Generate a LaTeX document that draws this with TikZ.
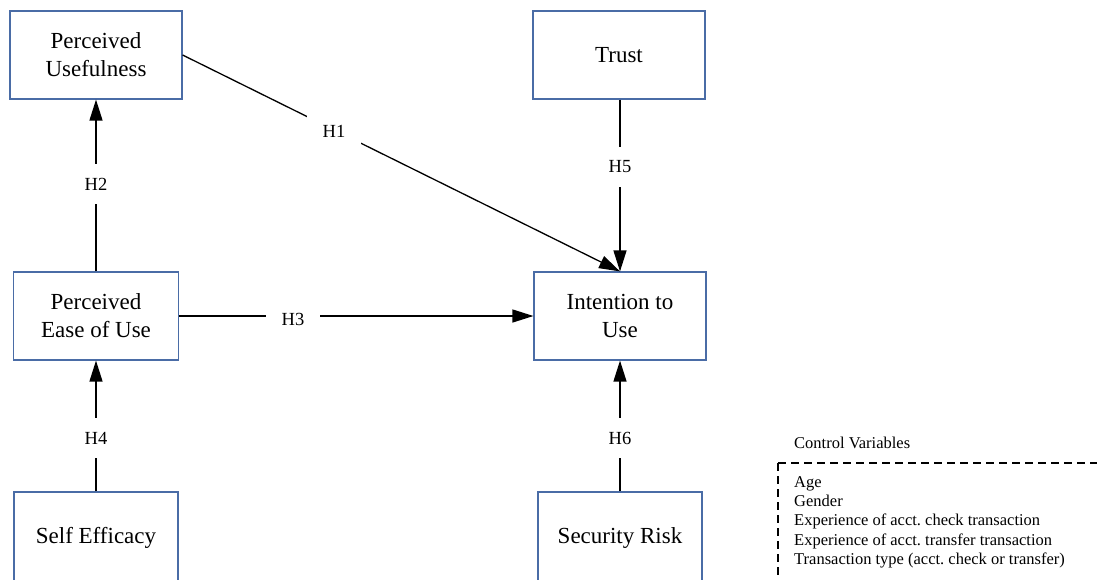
\documentclass[tikz,border=0pt]{standalone}
\usepackage{fontspec}
\setmainfont{Liberation Serif}
\usetikzlibrary{arrows.meta}
\definecolor{boxblue}{RGB}{74,108,166}
\tikzset{
  construct/.style={draw=boxblue, line width=1.2pt, fill=white, align=center,
    inner sep=0pt, font=\fontsize{23}{28}\selectfont},
  path/.style={draw=black, line width=1.3pt, -{Triangle[length=21pt,width=13pt]}},
  hyp/.style={fill=white, inner sep=0pt, minimum width=54pt, minimum height=40pt,
    font=\fontsize{18.5}{20}\selectfont},
  ctrl/.style={font=\fontsize{16.5}{19.3}\selectfont, align=left, inner sep=0pt, anchor=north west}
}
\begin{document}
\frenchspacing
\begin{tikzpicture}[x=1pt,y=-1pt]
  \clip (0,0) rectangle (1097,579);
  \fill[white] (0,0) rectangle (1097,579);

  % constructs
  \node[construct, minimum width=172pt, minimum height=88pt] (pu)   at (96,55)   {Perceived\\Usefulness};
  \node[construct, minimum width=172pt, minimum height=88pt] (tr)   at (619,55)  {Trust};
  \node[construct, minimum width=165pt, minimum height=88pt] (peou) at (96,316)  {Perceived\\Ease of Use};
  \node[construct, minimum width=172pt, minimum height=88pt] (iu)   at (620,316) {Intention to\\Use};
  \node[construct, minimum width=164pt, minimum height=92pt] (se)   at (96,538)  {Self Efficacy};
  \node[construct, minimum width=164pt, minimum height=92pt] (sr)   at (620,538) {Security Risk};

  % hypothesised paths
  \draw[path] (pu.east) -- (iu.north);
  \draw[path] (peou.north) -- (pu.south);
  \draw[path] (peou.east) -- (iu.west);
  \draw[path] (se.north) -- (peou.south);
  \draw[path] (tr.south -| iu.north) -- (iu.north);
  \draw[path] (sr.north) -- (iu.south);

  % hypothesis labels (white patches break the lines)
  \node[hyp] (h1) at (334,131) {H1};
  \node[hyp] (h2) at (96,184)  {H2};
  \node[hyp] (h3) at (293,319) {H3};
  \node[hyp] (h4) at (96,438)  {H4};
  \node[hyp] (h5) at (620,167) {H5};
  \node[hyp] (h6) at (620,438) {H6};

  % control variables
  \node[ctrl, anchor=west] (cvt) at (794,443) {Control Variables};
  \coordinate (cvtl) at (778,463);
  \draw[line width=1.2pt, dash pattern=on 8pt off 5pt]
    (cvtl) -- (1100,463)
    (cvtl) -- (778,585);
  \node[ctrl] (cvl) at (794,476) {Age\\Gender\\Experience of acct. check transaction\\Experience of acct. transfer transaction\\Transaction type (acct. check or transfer)};
\end{tikzpicture}
\end{document}
